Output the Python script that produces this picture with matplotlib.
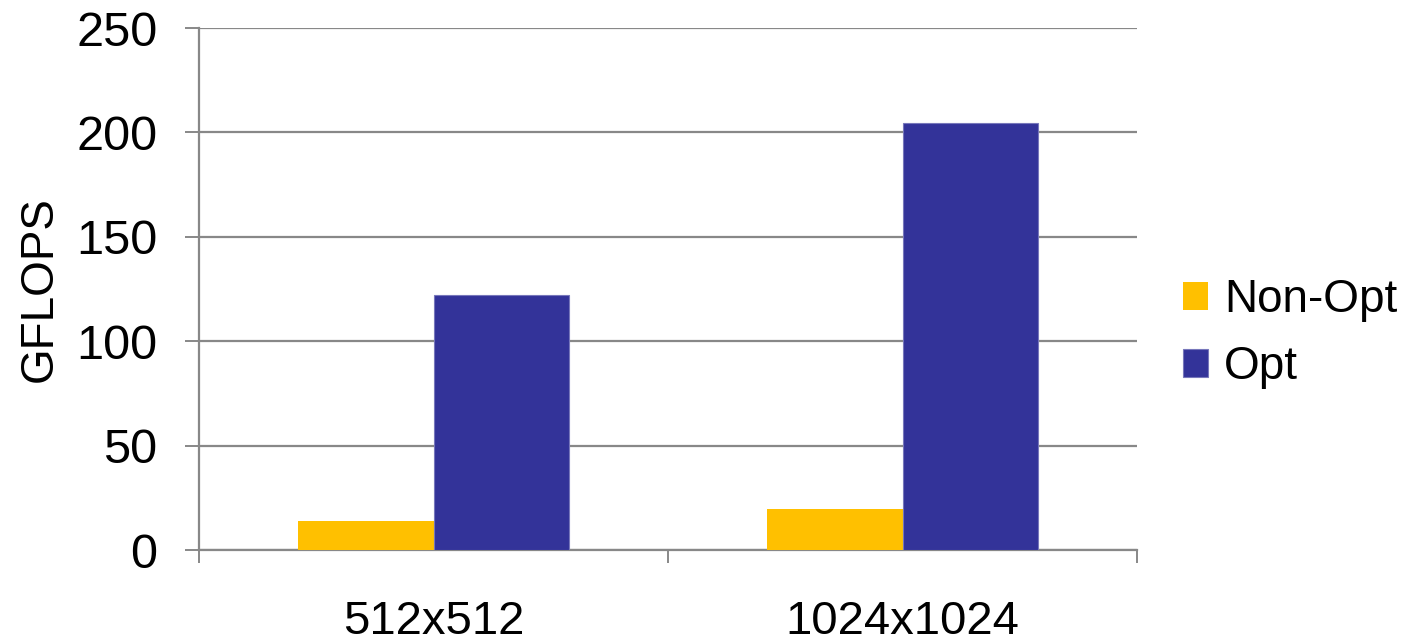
import numpy as np
import matplotlib
matplotlib.use("Agg")
import matplotlib.pyplot as plt

plt.rcParams['font.family'] = ['Liberation Sans', 'DejaVu Sans']

categories = ["512x512", "1024x1024"]
series_names = ["Non-Opt", "Opt"]
non_opt = [13.9, 19.7]
opt = [122.1, 204.5]
y_ticks = [0, 50, 100, 150, 200, 250]

fig = plt.figure(figsize=(14.12, 6.4), dpi=100)
ax = fig.add_axes([199 / 1412, 1 - 550 / 640, (1137 - 199) / 1412, (550 - 28) / 640])

x = np.arange(len(categories))
w = 0.288
ax.bar(x - w / 2, non_opt, w, color="#FFC000", label=series_names[0], zorder=3)
ax.bar(x + w / 2, opt, w, color="#333399", edgecolor="#7777BB", linewidth=0.8,
       label=series_names[1], zorder=3)

ax.set_xlim(-0.5, len(categories) - 0.5)
ax.set_ylim(0, 250)
ax.set_yticks(y_ticks)
ax.set_xticks(x)
ax.set_xticklabels(categories)
ax.set_xticks(np.arange(len(categories) + 1) - 0.5, minor=True)
ax.tick_params(axis="x", which="major", length=0, pad=36, labelsize=34)
ax.tick_params(axis="x", which="minor", length=9, width=1.4, color="#888888")
ax.tick_params(axis="y", length=10, width=1.4, color="#888888", pad=20, labelsize=35)
ax.grid(axis="y", color="#888888", linewidth=1.6, zorder=0)

for s in ["top", "right"]:
    ax.spines[s].set_visible(False)
for s in ["left", "bottom"]:
    ax.spines[s].set_color("#888888")
    ax.spines[s].set_linewidth(1.6)

ax.set_ylabel("GFLOPS", fontsize=33, labelpad=10)

ax.legend(loc="center left", bbox_to_anchor=(0.049, 0.414), bbox_transform=ax.transAxes,
          frameon=False, fontsize=33, handlelength=0.55, handleheight=0.55,
          handletextpad=0.35, labelspacing=0.5, borderaxespad=0, borderpad=0)
ax.get_legend().set_bbox_to_anchor((1.049, 0.414), transform=ax.transAxes)

fig.savefig("out.png", dpi=100)
